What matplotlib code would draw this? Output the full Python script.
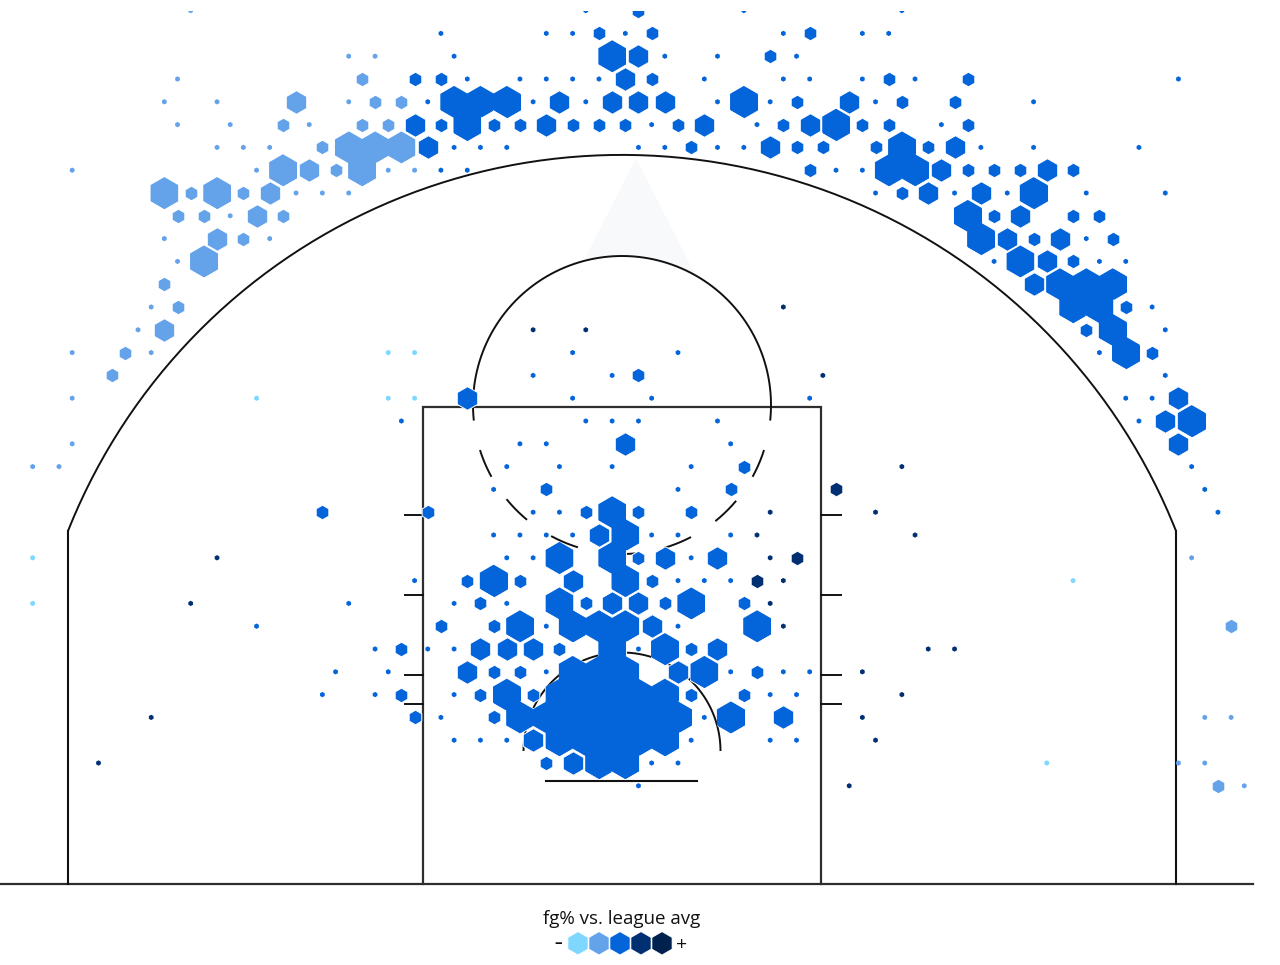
import numpy as np
import matplotlib
matplotlib.use('Agg')
import matplotlib.pyplot as plt
from matplotlib.patches import Polygon, Circle

# Shot bins: (row, column, size class) on the hex grid
# size class 0 = dot, 1 = small, 2 = medium, 3 = large
faint_bins = [
    (15, -18, 0), (15, -16, 0), (17, -28, 0), (17, -18, 0), (17, -16, 0),
    (24, -45, 0), (25, 34, 0), (26, -45, 0), (33, 32, 0),
]

light_bins = [
    (0, -33, 0), (2, -21, 0), (2, -19, 0), (3, -34, 0), (3, -20, 1),
    (4, -35, 0), (4, -31, 0), (4, -25, 2), (4, -21, 0), (4, -19, 1), (4, -17, 1),
    (5, -34, 0), (5, -30, 0), (5, -26, 1), (5, -24, 0), (5, -20, 1), (5, -18, 1),
    (6, -31, 0), (6, -29, 0), (6, -27, 0), (6, -23, 1), (6, -21, 3), (6, -19, 3), (6, -17, 3),
    (7, -42, 0), (7, -28, 0), (7, -26, 3), (7, -24, 2), (7, -22, 1), (7, -20, 3), (7, -18, 0), (7, -16, 0),
    (8, -35, 3), (8, -33, 1), (8, -31, 3), (8, -29, 1), (8, -27, 2), (8, -25, 0), (8, -23, 0), (8, -21, 0),
    (9, -34, 1), (9, -32, 1), (9, -30, 0), (9, -28, 2), (9, -26, 1),
    (10, -35, 0), (10, -31, 2), (10, -29, 1), (10, -27, 0),
    (11, -34, 0), (11, -32, 3), (12, -35, 1), (13, -36, 0), (13, -34, 1),
    (14, -37, 0), (14, -35, 2), (15, -42, 0), (15, -38, 1), (15, -36, 0),
    (16, -39, 1), (17, -42, 0), (19, -42, 0), (20, -45, 0), (20, -43, 0),
    (24, 43, 0), (27, 46, 1), (31, 44, 0), (31, 46, 0),
    (33, 42, 0), (33, 44, 0), (34, 45, 1), (34, 47, 0),
]

mid_bins = [
    (0, -3, 0), (0, 1, 1), (0, 9, 0), (0, 21, 0),
    (1, -14, 0), (1, -6, 0), (1, -4, 0), (1, -2, 1), (1, 0, 0), (1, 2, 1),
    (1, 12, 0), (1, 14, 1), (1, 18, 0), (1, 20, 0),
    (2, -13, 0), (2, -1, 3), (2, 1, 2), (2, 3, 0), (2, 7, 0), (2, 11, 1), (2, 13, 0),
    (3, -16, 1), (3, -14, 1), (3, -12, 0), (3, -8, 0), (3, -6, 0), (3, -4, 0), (3, -2, 0),
    (3, 0, 2), (3, 2, 1), (3, 6, 0), (3, 12, 0), (3, 14, 0), (3, 18, 0), (3, 20, 1),
    (3, 22, 0), (3, 26, 1), (3, 42, 0),
    (4, -15, 0), (4, -13, 3), (4, -11, 3), (4, -9, 3), (4, -7, 0), (4, -5, 2), (4, -3, 0),
    (4, -1, 2), (4, 1, 2), (4, 3, 2), (4, 7, 0), (4, 9, 3), (4, 11, 0), (4, 13, 1),
    (4, 17, 2), (4, 19, 0), (4, 21, 1), (4, 25, 1), (4, 31, 0),
    (5, -16, 2), (5, -14, 1), (5, -12, 3), (5, -10, 1), (5, -8, 1), (5, -6, 2), (5, -4, 1),
    (5, -2, 1), (5, 0, 1), (5, 2, 0), (5, 4, 1), (5, 6, 2), (5, 10, 0), (5, 12, 1),
    (5, 14, 2), (5, 16, 3), (5, 18, 1), (5, 20, 1), (5, 24, 0), (5, 26, 1),
    (6, -15, 2), (6, -13, 0), (6, -11, 0), (6, -9, 0), (6, 1, 0), (6, 3, 0), (6, 5, 1),
    (6, 7, 0), (6, 9, 0), (6, 11, 2), (6, 13, 1), (6, 15, 1), (6, 19, 1), (6, 21, 3),
    (6, 23, 1), (6, 25, 2), (6, 27, 0), (6, 31, 0), (6, 39, 0),
    (7, -14, 0), (7, -12, 0), (7, 14, 1), (7, 16, 0), (7, 18, 0), (7, 20, 3), (7, 22, 3),
    (7, 24, 2), (7, 26, 1), (7, 28, 1), (7, 30, 1), (7, 32, 2), (7, 34, 1),
    (8, 19, 0), (8, 21, 1), (8, 23, 2), (8, 25, 0), (8, 27, 2), (8, 29, 0), (8, 31, 3),
    (8, 35, 0), (8, 41, 0),
    (9, 26, 3), (9, 28, 1), (9, 30, 2), (9, 34, 1), (9, 36, 1),
    (10, 27, 3), (10, 29, 2), (10, 31, 1), (10, 33, 2), (10, 35, 0), (10, 37, 1),
    (11, 28, 0), (11, 30, 3), (11, 32, 2), (11, 34, 1), (11, 36, 0), (11, 38, 0),
    (12, 31, 2), (12, 33, 3), (12, 35, 3), (12, 37, 3),
    (13, 34, 3), (13, 36, 3), (13, 38, 1), (13, 40, 0),
    (14, 35, 1), (14, 37, 3), (14, 41, 0),
    (15, -4, 0), (15, 4, 0), (15, 36, 0), (15, 38, 3), (15, 40, 1),
    (16, -7, 0), (16, -1, 0), (16, 1, 1), (16, 41, 0),
    (17, -12, 2), (17, -4, 0), (17, 2, 0), (17, 14, 0), (17, 38, 0), (17, 40, 0), (17, 42, 2),
    (18, -17, 0), (18, -3, 0), (18, -1, 0), (18, 1, 0), (18, 7, 0), (18, 39, 0), (18, 41, 2), (18, 43, 3),
    (19, -8, 0), (19, -6, 0), (19, 0, 2), (19, 8, 0), (19, 42, 2),
    (20, -9, 0), (20, -5, 0), (20, -1, 0), (20, 5, 0), (20, 9, 1), (20, 43, 0),
    (21, -10, 0), (21, -6, 1), (21, 4, 0), (21, 8, 1), (21, 44, 0),
    (22, -23, 1), (22, -15, 1), (22, -7, 0), (22, -5, 0), (22, -3, 1), (22, -1, 3),
    (22, 1, 1), (22, 5, 1), (22, 45, 0),
    (23, -10, 0), (23, -8, 0), (23, -6, 0), (23, -4, 0), (23, -2, 2), (23, 0, 3),
    (23, 2, 0), (23, 4, 0), (23, 8, 0),
    (24, -9, 0), (24, -7, 0), (24, -5, 3), (24, -1, 3), (24, 1, 1), (24, 3, 2), (24, 5, 0), (24, 7, 2),
    (25, -16, 0), (25, -12, 1), (25, -10, 3), (25, -8, 1), (25, -4, 2), (25, 0, 3),
    (25, 2, 1), (25, 4, 0), (25, 6, 0), (25, 8, 0),
    (26, -21, 0), (26, -13, 0), (26, -11, 1), (26, -9, 0), (26, -5, 3), (26, -3, 1),
    (26, -1, 2), (26, 1, 2), (26, 3, 1), (26, 5, 3), (26, 9, 1),
    (27, -28, 0), (27, -14, 1), (27, -10, 1), (27, -8, 3), (27, -6, 0), (27, -4, 3),
    (27, -2, 3), (27, 0, 3), (27, 2, 2), (27, 4, 0), (27, 10, 3),
    (28, -19, 0), (28, -17, 1), (28, -15, 0), (28, -13, 0), (28, -11, 2), (28, -9, 2),
    (28, -7, 2), (28, -5, 1), (28, -1, 3), (28, 1, 0), (28, 3, 3), (28, 5, 1), (28, 7, 2),
    (29, -22, 0), (29, -18, 0), (29, -12, 2), (29, -10, 1), (29, -8, 1), (29, -6, 0),
    (29, -4, 3), (29, -2, 3), (29, 0, 3), (29, 4, 2), (29, 6, 3), (29, 8, 0), (29, 10, 1),
    (29, 12, 0), (29, 14, 0),
    (30, -23, 0), (30, -19, 0), (30, -17, 1), (30, -13, 0), (30, -11, 1), (30, -9, 3),
    (30, -7, 1), (30, -5, 3), (30, -3, 3), (30, -1, 3), (30, 1, 3), (30, 3, 3), (30, 5, 1),
    (30, 9, 1), (30, 11, 0), (30, 13, 0),
    (31, -16, 1), (31, -14, 0), (31, -10, 1), (31, -8, 3), (31, -6, 3), (31, -4, 3),
    (31, -2, 3), (31, 0, 3), (31, 2, 3), (31, 4, 3), (31, 6, 0), (31, 8, 3), (31, 12, 2),
    (32, -13, 0), (32, -11, 0), (32, -9, 0), (32, -7, 2), (32, -5, 3), (32, -3, 3),
    (32, -1, 3), (32, 1, 3), (32, 3, 3), (32, 5, 0), (32, 11, 0), (32, 13, 0),
    (33, -6, 1), (33, -4, 2), (33, -2, 3), (33, 0, 3), (33, 2, 0), (33, 4, 0),
    (34, 1, 0),
]

dark_bins = [
    (13, 12, 0), (14, -7, 0), (14, -3, 0), (16, 15, 0), (20, 21, 0), (21, 16, 1),
    (22, 11, 0), (22, 19, 0), (23, 10, 0), (23, 22, 0), (24, -31, 0), (24, 11, 0),
    (24, 13, 1), (25, 10, 1), (25, 12, 0), (26, -33, 0), (26, 11, 0), (27, 12, 0),
    (28, 23, 0), (28, 25, 0), (29, 18, 0), (30, 21, 0), (31, -36, 0), (31, 18, 0),
    (32, 19, 0), (33, -40, 0), (34, 17, 0),
]

level_colors = ['#7fd7ff', '#64a2ea', '#0464da', '#002f72', '#00214d']
level_bins = [faint_bins, light_bins, mid_bins, dark_bins]
legend_title = 'fg% vs. league avg'

# hex grid, in pixels of the picture
col_step = 13.17
row_step = 22.8
col_zero = 625.3
row_zero = 10.6
radius_px = [2.7, 7.3, 11.8, 16.2]

court_line = '#2e2e2e'
arc_line = '#111111'


def hex_s(radius):
    # scatter size for a hexagon of this radius (pixels) at dpi 100
    return (2 * radius * 0.72) ** 2


def draw_arc(ax, cx, cy, r, start, end, lw=1.4, color=arc_line):
    # angles in degrees, measured clockwise on screen since y is flipped
    t = np.radians(np.linspace(start, end, 200))
    ax.plot(cx + r * np.cos(t), cy + r * np.sin(t), color=color, lw=lw,
            solid_capstyle='butt', zorder=2)


def draw_bins(ax, size_class, radius, order, edge, lw):
    for level, bins in enumerate(level_bins):
        picked = [b for b in bins if b[2] == size_class]
        if not picked:
            continue
        xs = [col_zero + b[1] * col_step for b in picked]
        ys = [row_zero + b[0] * row_step for b in picked]
        ax.scatter(xs, ys, s=hex_s(radius), marker='h', color=level_colors[level],
                   edgecolors=edge, linewidths=lw, zorder=order)


fig = plt.figure(figsize=(12.8, 9.65), dpi=100)
# axes stop 11 px under the top edge, the top row of hexes is cut there
ax = fig.add_axes([0, 0, 1, (965 - 11) / 965])
ax.set_xlim(0, 1280)
ax.set_ylim(965, 11)
ax.axis('off')

# pale triangle behind the free throw circle
ax.add_patch(Polygon([(636, 158), (564, 300), (708, 300)], closed=True,
                     facecolor='#f8f9fb', edgecolor='none', zorder=1))
ax.add_patch(Circle((622, 405), 149, facecolor='white', edgecolor='none', zorder=1.5))

# court
ax.plot([0, 1253], [884, 884], color=court_line, lw=1.6, zorder=2)
ax.plot([422.5, 422.5, 821, 821], [884, 407, 407, 884], color=court_line, lw=1.6,
        solid_joinstyle='miter', zorder=2)
ax.plot([68, 68], [884, 531], color=arc_line, lw=1.5, zorder=2)
ax.plot([1176, 1176], [884, 531], color=arc_line, lw=1.5, zorder=2)
corner = np.degrees(np.arcsin((751 - 531) / 596.1))
draw_arc(ax, 622, 751, 596.1, 180 + corner, 360 - corner)

# free throw circle, solid on top and dashed below
draw_arc(ax, 622, 405, 149, 174, 366)
for start in [17.6, 40.0, 62.4, 84.8, 107.2, 129.6, 151.2]:
    draw_arc(ax, 622, 405, 149, start, start + 11.2)

# restricted area and backboard
draw_arc(ax, 622, 751, 98.5, 180, 360)
ax.plot([546, 697], [780.5, 780.5], color=arc_line, lw=1.5, zorder=2)

# lane ticks
for tick_y in [515.3, 595, 675, 704.3]:
    ax.plot([404.5, 422.5], [tick_y, tick_y], color=arc_line, lw=1.4, zorder=2)
    ax.plot([821, 840.5], [tick_y, tick_y], color=arc_line, lw=1.4, zorder=2)

# hexes, biggest first so that the smaller ones keep their white edge
draw_bins(ax, 3, radius_px[3], 10, 'white', 0.7)
# second pass without edge, neighbouring large hexes melt together
draw_bins(ax, 3, radius_px[3] - 0.3, 11, 'none', 0)
draw_bins(ax, 2, radius_px[2], 12, 'white', 0.7)
draw_bins(ax, 1, radius_px[1], 13, 'white', 0.7)
draw_bins(ax, 0, radius_px[0], 14, 'none', 0)

# legend
font = ['Open Sans', 'DejaVu Sans']
ax.text(621.5, 919.5, legend_title, ha='center', va='center', fontsize=13.5,
        family=font, color='#111111')
legend_x = [578, 599, 620, 641, 662]
ax.scatter(legend_x, [943.3] * 5, s=hex_s(11.6), marker='h', color=level_colors,
           edgecolors='white', linewidths=0.5, zorder=10)
ax.text(558, 943.5, '–', ha='center', va='center', fontsize=11, fontweight='bold',
        family=font, color='#111111')
ax.text(681.5, 944.5, '+', ha='center', va='center', fontsize=14, family=font, color='#111111')

fig.savefig('out.png', dpi=100, facecolor='white')
